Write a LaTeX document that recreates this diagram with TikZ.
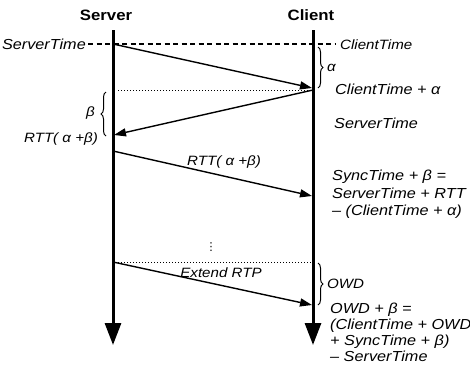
\documentclass[tikz,border=0pt]{standalone}
\usepackage{fontspec}
\setmainfont{Liberation Sans}[FakeStretch=1.12, ItalicFeatures={FakeStretch=1.12}, BoldFeatures={FakeStretch=1.12}]
\newfontfamily\dejavu{DejaVu Sans}
\usetikzlibrary{arrows.meta,decorations.pathreplacing}
\begin{document}
\begin{tikzpicture}[x=1pt,y=-1pt,
  lbl/.style={font=\fontsize{13.5}{15}\selectfont\itshape, inner sep=0pt},
  big/.style={font=\fontsize{14.5}{16}\selectfont\itshape, inner sep=0pt},
  head/.style={font=\fontsize{15}{17}\selectfont\bfseries, inner sep=0pt},
  life/.style={line width=3pt, -{Triangle[length=22pt,width=16pt]}},
  msg/.style={line width=1.4pt, -{Triangle[length=12pt,width=8pt]}},
  sync/.style={line width=2.5pt, dash pattern=on 5pt off 3.5pt},
  guide/.style={line width=1pt, dotted},
  brc/.style={decorate, decoration={brace, amplitude=5pt}, line width=1pt}]
\useasboundingbox (0,0) rectangle (470,378);
% headers
\node[head, anchor=base] (server) at (106,20) {Server};
\node[head, anchor=base] (client) at (311,20) {Client};
% lifelines
\coordinate (sTop) at (113,30); \coordinate (sBot) at (113,345);
\coordinate (cTop) at (313,30); \coordinate (cBot) at (313,345);
\draw[life] (sTop) -- (sBot);
\draw[life] (cTop) -- (cBot);
% synchronisation line
\node[big, anchor=base east] (stime) at (86,49) {ServerTime};
\node[lbl, anchor=base west] (ctime) at (340,49) {ClientTime};
\coordinate (dashL) at (88,44); \coordinate (dashR) at (335,44);
\draw[sync] (dashL) -- (dashR);
% messages
\coordinate (m1s) at (113,44);  \coordinate (m1c) at (312,88);
\coordinate (m2c) at (313,90);  \coordinate (m2s) at (114,135);
\coordinate (m3s) at (113,151); \coordinate (m3c) at (312,196);
\coordinate (m4s) at (113,262); \coordinate (m4c) at (312,305);
\draw[msg] (m1s) -- (m1c);
\draw[msg] (m2c) -- (m2s);
\draw[msg] (m3s) -- (m3c);
\draw[msg] (m4s) -- (m4c);
% dotted guides
\coordinate (g1s) at (118,90);  \coordinate (g1c) at (311,90);
\coordinate (g2s) at (115,262); \coordinate (g2c) at (311,262);
\draw[guide] (g1s) -- (g1c);
\draw[guide] (g2s) -- (g2c);
% braces
\coordinate (ba1) at (318,47);  \coordinate (ba2) at (318,88);
\coordinate (bb1) at (106,136); \coordinate (bb2) at (106,92);
\coordinate (bo1) at (318,263); \coordinate (bo2) at (318,305);
\draw[brc] (ba1) -- (ba2);
\draw[brc] (bb1) -- (bb2);
\draw[brc] (bo1) -- (bo2);
% labels
\node[lbl, anchor=base west] (alpha) at (327,71) {α};
\node[big, anchor=base west] (cta) at (335,94) {ClientTime + α};
\node[big, anchor=base west] (st2) at (334,128) {ServerTime};
\node[lbl, anchor=base east] (beta) at (95,116) {β};
\node[lbl, anchor=base east] (rttL) at (98,142) {RTT( α +β)};
\node[lbl, anchor=base] (rttM) at (224,165) {RTT( α +β)};
\node[big, anchor=base west] (sy1) at (332,180) {SyncTime + β =};
\node[big, anchor=base west] (sy2) at (332,198) {ServerTime + RTT};
\node[big, anchor=base west] (sy3) at (332,215.5) {– (ClientTime + α)};
\node[font=\fontsize{11}{12}\selectfont\dejavu, inner sep=0pt] (dots) at (211,247) {⋮};
\node[lbl, anchor=base] (ext) at (221,277) {Extend RTP};
\node[lbl, anchor=base west] (owd) at (327,288) {OWD};
\node[big, anchor=base west] (ow1) at (330,313) {OWD + β =};
\node[big, anchor=base west] (ow2) at (330,329) {(ClientTime + OWD};
\node[big, anchor=base west] (ow3) at (330,345) {+ SyncTime + β)};
\node[big, anchor=base west] (ow4) at (330,361) {– ServerTime};
\end{tikzpicture}
\end{document}
